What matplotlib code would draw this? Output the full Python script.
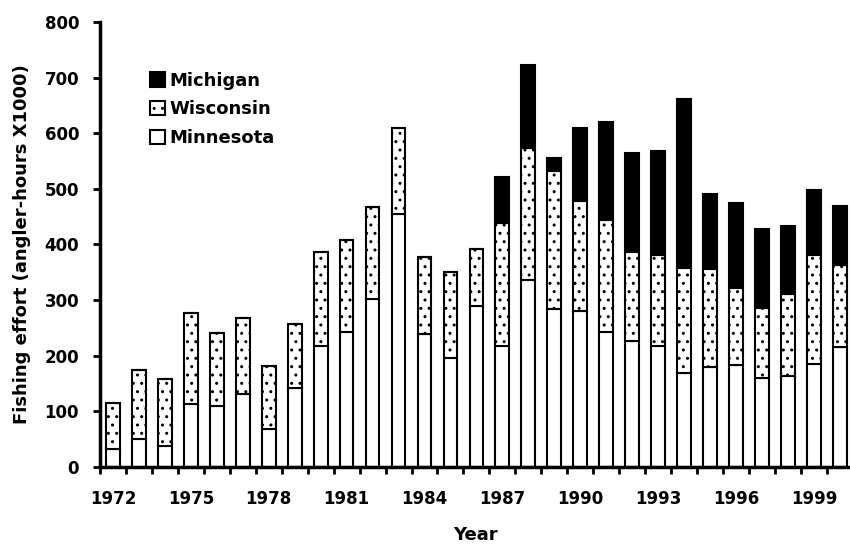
import numpy as np
import matplotlib
matplotlib.use("Agg")
import matplotlib.pyplot as plt
from matplotlib.patches import Patch

plt.rcParams["font.family"] = ["DejaVu Sans"]
plt.rcParams["hatch.linewidth"] = 1.0

# Values (angler-hours x 1000)
years = list(range(1972, 2001))
minnesota = [31, 50, 37, 112, 110, 130, 68, 142, 218, 243, 302, 454, 239, 195, 290,
             217, 336, 284, 281, 242, 226, 217, 168, 179, 183, 159, 163, 185, 215]
wisconsin_top = [114, 174, 157, 277, 240, 267, 181, 256, 386, 407, 467, 609, 378, 350, 391,
                 439, 574, 532, 478, 444, 387, 381, 357, 356, 322, 286, 311, 381, 363]
michigan_top = [114, 174, 157, 277, 240, 267, 181, 256, 386, 407, 467, 609, 378, 350, 391,
                521, 722, 555, 609, 620, 564, 568, 661, 490, 474, 428, 433, 498, 469]

wisconsin = [w - m for w, m in zip(wisconsin_top, minnesota)]
michigan = [t - w for t, w in zip(michigan_top, wisconsin_top)]

tick_labels = ["1972", "1975", "1978", "1981", "1984", "1987", "1990", "1993", "1996", "1999"]
y_ticks = [0, 100, 200, 300, 400, 500, 600, 700, 800]

x = np.arange(len(years))
w = 0.53
lw = 1.5

fig = plt.figure(figsize=(8.5, 5.46), dpi=100)
ax = fig.add_axes([0.1176, 0.1452, 0.8824, 0.8144])

ax.bar(x, minnesota, w, color="white", edgecolor="black", linewidth=lw, zorder=2)
ax.bar(x, wisconsin, w, bottom=minnesota, color="white", edgecolor="black",
       linewidth=lw, hatch="..", zorder=2)
ax.bar(x, michigan, w, bottom=wisconsin_top, color="black", edgecolor="black",
       linewidth=lw, zorder=2)

ax.set_xlim(-0.5, 28.39)
ax.set_ylim(0, 800)
ax.set_yticks(y_ticks)
ax.set_yticklabels([str(v) for v in y_ticks], fontsize=12, fontweight="bold")

# a label every third year, boundary ticks as minor ticks
ax.set_xticks(x[::3])
ax.set_xticklabels(tick_labels, fontsize=12, fontweight="bold")
ax.set_xticks(np.arange(-0.5, len(years) - 0.5, 1.0), minor=True)
ax.tick_params(axis="x", which="major", length=0, pad=17)
ax.tick_params(axis="x", which="minor", length=5, width=2, direction="out")
ax.tick_params(axis="y", length=5, width=2, direction="out", pad=10)

for s in ["top", "right"]:
    ax.spines[s].set_visible(False)
for s in ["left", "bottom"]:
    ax.spines[s].set_linewidth(2.5)

ax.set_xlabel("Year", fontsize=13, fontweight="bold", labelpad=13)
ax.set_ylabel("Fishing effort (angler-hours X1000)", fontsize=13, fontweight="bold", labelpad=10)

handles = [
    Patch(facecolor="black", edgecolor="black", linewidth=lw, label="Michigan"),
    Patch(facecolor="white", edgecolor="black", linewidth=lw, hatch="..", label="Wisconsin"),
    Patch(facecolor="white", edgecolor="black", linewidth=lw, label="Minnesota"),
]
ax.legend(handles=handles, loc="upper left", bbox_to_anchor=(0.045, 0.925), frameon=False,
          prop={"weight": "bold", "size": 13}, handlelength=0.85, handleheight=0.85,
          handletextpad=0.25, labelspacing=0.6)

fig.savefig("out.png", dpi=100)
